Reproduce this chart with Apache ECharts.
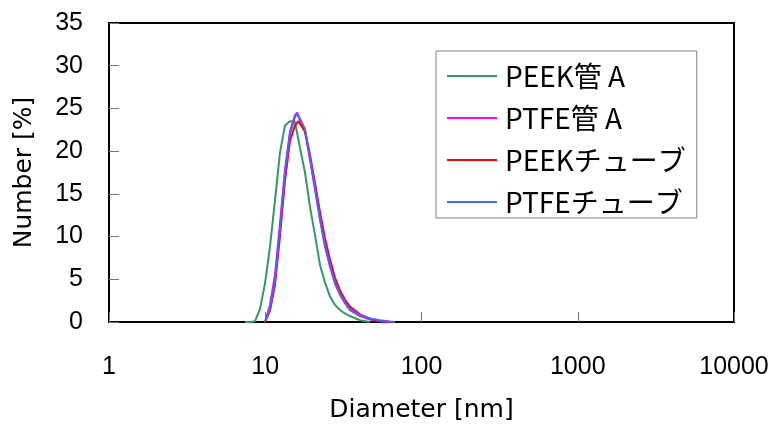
<!DOCTYPE html>
<html>
<head>
<meta charset="utf-8">
<script src="https://cdn.jsdelivr.net/npm/echarts@6/dist/echarts.min.js"></script>
<style>html,body{margin:0;padding:0;background:#fff;}#c{width:774px;height:425px;}</style>
</head>
<body>
<div id="c"></div>
<script>
const seriesNames = ['PEEK管 A', 'PTFE管 A', 'PEEKチューブ', 'PTFEチューブ'];
const seriesColors = ['#339966', '#ff00ff', '#ff0000', '#3d6cf0'];
const yTicks = [0, 5, 10, 15, 20, 25, 30, 35];
const xTicks = [1, 10, 100, 1000, 10000];

const peekA_d = [7.42, 7.99, 8.60, 9.25, 9.96, 10.72, 11.54, 12.42, 13.37, 14.40, 15.50, 16.68, 17.96, 19.33, 20.81, 22.40, 24.12, 25.96, 27.94, 30.08, 32.38, 34.86, 40.4, 46.8];
const peekA_v = [0, 0, 0.1, 1.5, 4.5, 8.8, 14.2, 19.8, 23.0, 23.5, 23.4, 20.4, 17.5, 13.5, 10.2, 6.7, 4.6, 3.0, 2.0, 1.4, 1.0, 0.7, 0.2, 0];

const ptfeA_d = [9.96, 10.72, 11.54, 12.42, 13.37, 14.40, 15.50, 16.0, 16.68, 17.96, 19.33, 20.81, 22.40, 24.12, 25.96, 27.94, 30.08, 32.38, 34.86, 40.4, 46.8, 54.2, 62.8];
const ptfeA_v = [0, 2.0, 5.5, 11.5, 17.8, 22.3, 24.2, 24.5, 23.6, 22.3, 19.0, 15.5, 12.0, 8.8, 6.5, 4.5, 3.2, 2.2, 1.4, 0.7, 0.3, 0.1, 0];

const peekT_d = [9.96, 10.72, 11.54, 12.42, 13.37, 14.40, 15.50, 16.3, 16.68, 17.96, 19.33, 20.81, 22.40, 24.12, 25.96, 27.94, 30.08, 32.38, 34.86, 40.4, 46.8, 54.2, 61.0];
const peekT_v = [0, 1.3, 4.3, 10.0, 16.5, 21.2, 23.0, 23.5, 23.3, 22.3, 19.6, 16.3, 12.9, 9.8, 7.3, 5.2, 3.7, 2.6, 1.8, 0.9, 0.4, 0.1, 0];

const ptfeT_d = [9.96, 10.72, 11.54, 12.42, 13.37, 14.40, 15.50, 16.0, 16.68, 17.96, 19.33, 20.81, 22.40, 24.12, 25.96, 27.94, 30.08, 32.38, 34.86, 40.4, 46.8, 54.2, 62.8, 67.6];
const ptfeT_v = [0, 1.6, 4.8, 10.8, 17.3, 22.0, 24.0, 24.4, 23.8, 22.6, 19.3, 15.8, 12.2, 9.0, 6.7, 4.6, 3.3, 2.3, 1.5, 0.8, 0.4, 0.2, 0.05, 0];

const allD = [peekA_d, ptfeA_d, peekT_d, ptfeT_d];
const allV = [peekA_v, ptfeA_v, peekT_v, ptfeT_v];

const chart = echarts.init(document.getElementById('c'), null, {renderer: 'canvas'});
const numFont = 'Liberation Sans';
const nameFont = 'DejaVu Sans';

chart.setOption({
  animation: false,
  backgroundColor: '#fff',
  grid: {left: 109, right: 40, top: 23, bottom: 103, containLabel: false, outerBoundsMode: 'none',
    show: true, borderColor: '#000', borderWidth: 2, backgroundColor: 'transparent'},
  legend: {
    orient: 'vertical',
    left: 436, top: 51,
    padding: [10, 11, 1, 11],
    itemGap: 12,
    itemWidth: 50, itemHeight: 2,
    icon: 'rect',
    borderColor: '#808080', borderWidth: 1,
    backgroundColor: '#fff',
    data: seriesNames,
    textStyle: {fontSize: 28, lineHeight: 30, color: '#000', fontFamily: 'Noto Sans CJK JP', padding: [0, 0, 0, 3]}
  },
  xAxis: {
    type: 'log', logBase: 10, min: 1, max: 10000,
    name: 'Diameter [nm]', nameLocation: 'middle', nameGap: 76,
    nameTextStyle: {fontSize: 25, color: '#000', fontFamily: nameFont},
    axisLine: {show: true, lineStyle: {color: '#000', width: 2}},
    axisTick: {show: true, inside: true, length: 10, lineStyle: {color: '#777', width: 1}},
    minorTick: {show: false},
    axisLabel: {fontSize: 25, color: '#000', fontFamily: numFont, margin: 33,
      formatter: v => { const r = xTicks.find(t => Math.abs(t - v) / t < 1e-6); return r !== undefined ? String(r) : ''; }},
    splitLine: {show: false}
  },
  yAxis: {
    type: 'value', min: 0, max: 35, interval: 5,
    name: 'Number [%]', nameLocation: 'middle', nameGap: 72,
    nameTextStyle: {fontSize: 25, color: '#000', fontFamily: nameFont},
    axisLine: {show: true, lineStyle: {color: '#000', width: 2}},
    axisTick: {show: true, inside: true, length: 10, lineStyle: {color: '#777', width: 1}},
    axisLabel: {fontSize: 25, color: '#000', fontFamily: numFont, margin: 26,
      formatter: v => yTicks.includes(v) ? String(v) : ''},
    splitLine: {show: false}
  },
  series: seriesNames.map((n, i) => ({
    name: n,
    type: 'line',
    symbol: 'none',
    smooth: false,
    color: seriesColors[i],
    lineStyle: {color: seriesColors[i], width: 2},
    data: allD[i].map((d, j) => [d, allV[i][j]])
  }))
});
</script>
</body>
</html>
